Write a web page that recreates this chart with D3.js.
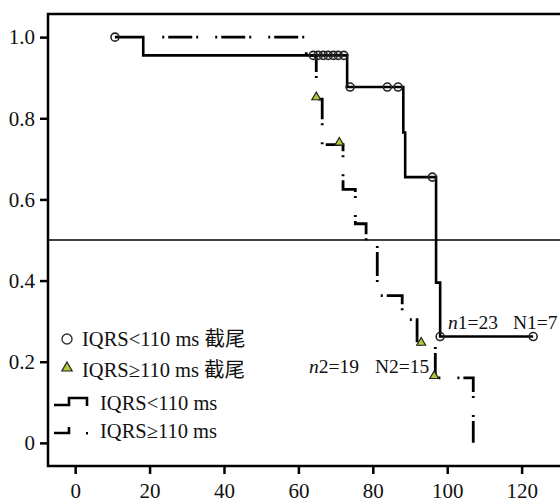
<!DOCTYPE html>
<html>
<head>
<meta charset="utf-8">
<script src="https://cdn.jsdelivr.net/npm/d3@7/dist/d3.min.js"></script>
<style>
  body { margin: 0; background: #fff; }
  svg { display: block; }
  text { font-family: "Liberation Serif", "Times New Roman", Times, "DejaVu Serif", serif, "Noto Sans CJK SC"; fill: #111; }
</style>
</head>
<body>
<div id="chart"></div>
<script>
// group 1: IQRS<110 ms (solid)
const g1Times = [10.7, 18.3, 73.1, 88.2, 88.7, 97.0, 98.1, 123.1]
const g1Surv = [1.0, 0.955, 0.877, 0.765, 0.655, 0.395, 0.262, 0.262]
const g1CensorTimes = [10.7, 64.0, 65.3, 66.7, 68.0, 69.4, 70.7, 72.2, 73.9, 83.9, 86.8, 96.0, 98.1, 123.1]
const g1CensorSurv = [1.0, 0.955, 0.955, 0.955, 0.955, 0.955, 0.955, 0.955, 0.877, 0.877, 0.877, 0.655, 0.262, 0.262]

// group 2: IQRS>=110 ms (dash-dot)
const g2Times = [23.4, 62.1, 64.8, 66.4, 72.0, 75.3, 78.2, 81.2, 87.9, 91.9, 96.8, 107.0]
const g2Surv = [1.0, 0.955, 0.847, 0.735, 0.625, 0.54, 0.49, 0.363, 0.304, 0.242, 0.16, 0]
const g2CensorTimes = [64.8, 71.0, 93.0, 96.5]
const g2CensorSurv = [0.847, 0.735, 0.242, 0.16]

const xTicks = [0, 20, 40, 60, 80, 100, 120]
const yTicks = [0, 0.2, 0.4, 0.6, 0.8, 1.0]
const refLine = 0.5

const legendItems = ['IQRS<110 ms 截尾', 'IQRS≥110 ms 截尾', 'IQRS<110 ms', 'IQRS≥110 ms']

const canvasWidth = 560
const canvasHeight = 500
const plot = {left: 48, top: 14, right: 570, bottom: 466}
const serif = '"Liberation Serif", "Times New Roman", Times, "DejaVu Serif", serif, "Noto Sans CJK SC"'

const xScale = d3.scaleLinear().domain([-7.3, 133]).range([plot.left, plot.right])
const yScale = d3.scaleLinear().domain([-0.057, 1.057]).range([plot.bottom, plot.top])

const svg = d3.select('#chart')
  .append('svg')
  .attr('width', canvasWidth)
  .attr('height', canvasHeight)
  .style('font-family', serif)

// frame
svg.append('rect')
  .attr('x', plot.left)
  .attr('y', plot.top)
  .attr('width', plot.right - plot.left)
  .attr('height', plot.bottom - plot.top)
  .attr('fill', 'none')
  .attr('stroke', '#000')
  .attr('stroke-width', 2.5)

// axes
const yAxis = d3.axisLeft(yScale)
  .tickValues(yTicks)
  .tickSize(8)
  .tickSizeOuter(0)
  .tickPadding(5)
  .tickFormat(d => (d === 0 ? '0' : d3.format('.1f')(d)))

const yG = svg.append('g')
  .attr('transform', `translate(${plot.left}, 0)`)
  .call(yAxis)

const xAxis = d3.axisBottom(xScale)
  .tickValues(xTicks)
  .tickSize(8)
  .tickSizeOuter(0)
  .tickPadding(9)

const xG = svg.append('g')
  .attr('transform', `translate(0, ${plot.bottom})`)
  .call(xAxis)

;[xG, yG].forEach(g => {
  g.attr('font-family', serif).attr('font-size', 21)
  g.select('.domain').remove()
  g.selectAll('.tick line').attr('stroke', '#000').attr('stroke-width', 2.5)
  g.selectAll('.tick text')
    .style('font-family', serif)
    .style('font-size', '21px')
    .attr('fill', '#111')
})

// 0.5 reference line
svg.append('line')
  .attr('x1', plot.left)
  .attr('x2', canvasWidth)
  .attr('y1', yScale(refLine))
  .attr('y2', yScale(refLine))
  .attr('stroke', '#000')
  .attr('stroke-width', 1.6)

const stepLine = d3.line()
  .x(d => xScale(d[0]))
  .y(d => yScale(d[1]))
  .curve(d3.curveStepAfter)

// group 2 dash-dot curve
svg.append('path')
  .datum(d3.zip(g2Times, g2Surv))
  .attr('d', stepLine)
  .attr('fill', 'none')
  .attr('stroke', '#000')
  .attr('stroke-width', 2.8)
  .attr('stroke-dasharray', '2,4,24,4,2,17')

// group 1 solid curve
svg.append('path')
  .datum(d3.zip(g1Times, g1Surv))
  .attr('d', stepLine)
  .attr('fill', 'none')
  .attr('stroke', '#000')
  .attr('stroke-width', 2.6)

// censor marks
svg.selectAll('circle.c1')
  .data(d3.zip(g1CensorTimes, g1CensorSurv))
  .enter()
  .append('circle')
  .attr('class', 'c1')
  .attr('cx', d => xScale(d[0]))
  .attr('cy', d => yScale(d[1]))
  .attr('r', 4)
  .attr('fill', 'none')
  .attr('stroke', '#222')
  .attr('stroke-width', 1.6)

const tri = d3.symbol().type(d3.symbolTriangle).size(34)

svg.selectAll('path.c2')
  .data(d3.zip(g2CensorTimes, g2CensorSurv))
  .enter()
  .append('path')
  .attr('class', 'c2')
  .attr('d', tri)
  .attr('transform', d => `translate(${xScale(d[0])}, ${yScale(d[1]) - 2})`)
  .attr('fill', '#b3c93a')
  .attr('stroke', '#222')
  .attr('stroke-width', 1.2)

// n / N labels
const addLabel = (x, y, name, idx, value) => {
  const t = svg.append('text')
    .attr('x', x)
    .attr('y', y)
    .attr('font-size', 19.5)
  t.append('tspan').attr('font-style', name === 'n' ? 'italic' : 'normal').text(name)
  t.append('tspan').text(`${idx}=${value}`)
}
addLabel(448, 329, 'n', 1, 23)
addLabel(513, 329, 'N', 1, 7)
addLabel(309, 373, 'n', 2, 19)
addLabel(375, 373, 'N', 2, 15)

// legend
const legend = svg.append('g')

legend.append('circle')
  .attr('cx', 67).attr('cy', 339).attr('r', 5)
  .attr('fill', 'none').attr('stroke', '#333').attr('stroke-width', 1.4)

legend.append('path')
  .attr('d', tri.size(46)())
  .attr('transform', 'translate(67, 368)')
  .attr('fill', '#b3c93a').attr('stroke', '#222').attr('stroke-width', 1.2)

legend.append('path')
  .attr('d', 'M54,405H69V398H87V406')
  .attr('fill', 'none').attr('stroke', '#000').attr('stroke-width', 2.6)

legend.append('path')
  .attr('d', 'M54,433H69V427')
  .attr('fill', 'none').attr('stroke', '#000').attr('stroke-width', 2.6)

legend.append('rect')
  .attr('x', 86).attr('y', 432).attr('width', 2).attr('height', 2.5)
  .attr('fill', '#000')

const legendPos = [[82, 346], [82, 377], [100, 410], [100, 438]]
legend.selectAll('text')
  .data(legendItems)
  .enter()
  .append('text')
  .attr('x', (d, i) => legendPos[i][0])
  .attr('y', (d, i) => legendPos[i][1])
  .attr('font-size', 20.5)
  .text(d => d)
</script>
</body>
</html>
